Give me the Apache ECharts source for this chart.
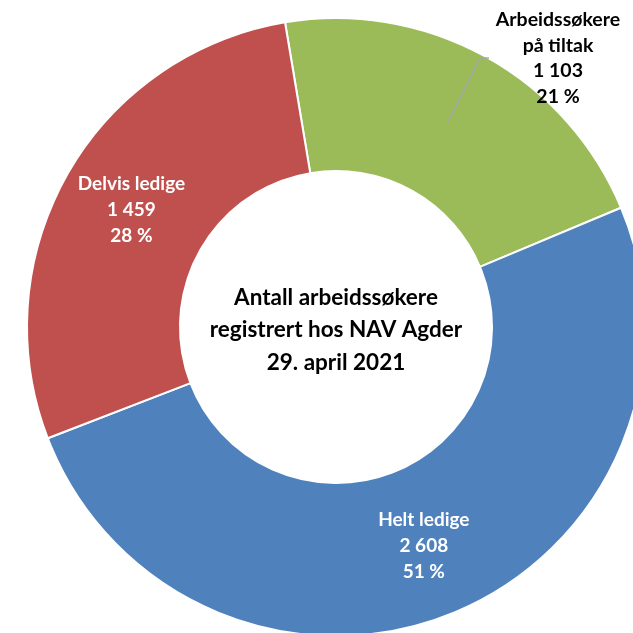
<!DOCTYPE html>
<html>
<head>
<meta charset="utf-8">
<script src="https://cdn.jsdelivr.net/npm/echarts@6/dist/echarts.min.js"></script>
<style>
  html, body { margin: 0; padding: 0; background: #fff; }
  #chart { width: 633px; height: 633px; }
</style>
</head>
<body>
<div id="chart"></div>
<script>
// data
const categories = ['Arbeidssøkere\npå tiltak', 'Helt ledige', 'Delvis ledige']
const values = [1103, 2608, 1459]
const percentLabels = ['21 %', '51 %', '28 %']
const colors = ['#9BBB59', '#4F81BD', '#C0504D']
const centerText = 'Antall arbeidssøkere\nregistrert hos NAV Agder\n29. april 2021'

const FONT = 'Lato, "Open Sans", sans-serif'

// 1 103 style thousands separator
const fmt = v => String(v).replace(/\B(?=(\d{3})+(?!\d))/g, ' ')

const myChart = echarts.init(document.getElementById('chart'))

const option = {
  animation: false,
  backgroundColor: '#fff',
  series: [{
    type: 'pie',
    center: [336, 327],
    radius: [156, 309],
    startAngle: 99.5,
    clockwise: true,
    avoidLabelOverlap: false,
    itemStyle: {
      borderColor: '#fff',
      borderWidth: 2
    },
    label: {
      show: true,
      position: 'inside',
      color: '#fff',
      fontFamily: FONT,
      fontWeight: 'bold',
      fontSize: 19,
      lineHeight: 26,
      formatter: p => p.name + '\n' + fmt(p.value) + '\n' + percentLabels[p.dataIndex]
    },
    labelLine: { show: false },
    // green label sits outside the ring, top right
    labelLayout: p => p.dataIndex === 0
      ? { x: 558, y: 58, align: 'center', verticalAlign: 'middle' }
      : {},
    data: categories.map((name, i) => ({
      name,
      value: values[i],
      itemStyle: { color: colors[i] },
      label: i === 0 ? { color: '#000', lineHeight: 25.5, fontSize: 19.5 } : {}
    }))
  }],
  graphic: [
    {
      type: 'polyline',
      shape: { points: [[448, 122], [480, 58], [489, 58]] },
      style: { stroke: '#A6A6A6', lineWidth: 1.5, fill: null },
      z: 10
    },
    {
      type: 'text',
      x: 336,
      y: 330,
      style: {
        text: centerText,
        fill: '#000',
        font: 'bold 22.5px ' + FONT,
        lineHeight: 32.5,
        align: 'center',
        verticalAlign: 'middle'
      },
      z: 10
    }
  ]
}

myChart.setOption(option)
</script>
</body>
</html>
